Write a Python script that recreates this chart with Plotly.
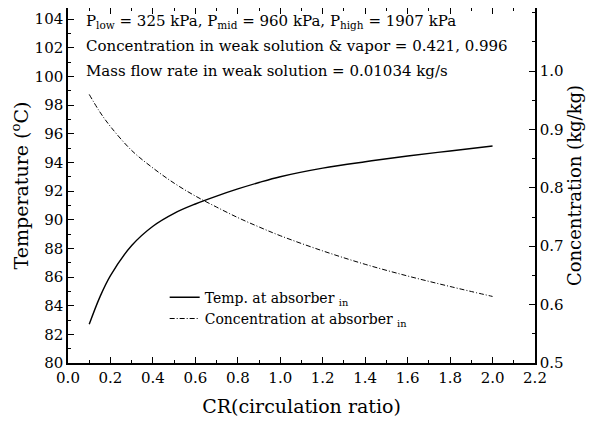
import plotly.graph_objects as go

cr = [0.1, 0.15, 0.2, 0.3, 0.4, 0.5, 0.6, 0.7, 0.8, 0.9, 1.0, 1.2, 1.4, 1.6, 1.8, 2.0]
temp_abs_in = [82.7, 84.6, 86.1, 88.2, 89.55, 90.45, 91.1, 91.65, 92.15, 92.6, 93.0,
               93.6, 94.05, 94.45, 94.8, 95.15]
conc_abs_in = [0.960, 0.930, 0.905, 0.864, 0.834, 0.808, 0.786, 0.767, 0.749, 0.733,
               0.718, 0.692, 0.669, 0.649, 0.631, 0.614]

x_ticks = [0.0, 0.2, 0.4, 0.6, 0.8, 1.0, 1.2, 1.4, 1.6, 1.8, 2.0, 2.2]
y_ticks = list(range(80, 105, 2))
y2_ticks = [0.5, 0.6, 0.7, 0.8, 0.9, 1.0]

FONT = "DejaVu Serif"

fig = go.Figure()
fig.add_trace(go.Scatter(
    x=cr, y=temp_abs_in, mode="lines", line=dict(color="black", width=1.4, shape="spline"),
    name="Temp. at absorber <sub>in</sub>"))
fig.add_trace(go.Scatter(
    x=cr, y=conc_abs_in, mode="lines", yaxis="y2",
    line=dict(color="black", width=1, dash="5px,2px,1px,2px", shape="spline"),
    name="Concentration at absorber <sub>in</sub>"))

axis_common = dict(showline=True, linecolor="black", linewidth=1.5, ticks="inside",
                   tickcolor="black", ticklen=6, tickwidth=1, showgrid=False, zeroline=False,
                   tickfont=dict(family=FONT, size=15, color="black"))

fig.update_layout(
    template="none",
    width=597, height=423,
    margin=dict(l=60, r=70, t=0, b=68),
    paper_bgcolor="white", plot_bgcolor="white",
    font=dict(family=FONT, color="black", size=15),
    xaxis=dict(range=[0, 2.2], tickvals=x_ticks, ticktext=[f"{v:.1f}" for v in x_ticks],
               mirror="ticks",
               minor=dict(ticks="inside", ticklen=3, tickcolor="black", dtick=0.1),
               title=dict(text="CR(circulation ratio)", font=dict(family=FONT, size=19), standoff=14),
               **axis_common),
    yaxis=dict(range=[80, 104.78], tickvals=y_ticks,
               minor=dict(ticks="inside", ticklen=3, tickcolor="black", dtick=1),
               title=dict(text="Temperature (<sup>o</sup>C)",
                          font=dict(family=FONT, size=19), standoff=6),
               **axis_common),
    yaxis2=dict(range=[0.5, 1.108], tickvals=y2_ticks, ticktext=[f"{v:.1f}" for v in y2_ticks],
                overlaying="y", side="right",
                minor=dict(ticks="inside", ticklen=3, tickcolor="black", dtick=0.05),
                title=dict(text="Concentration (kg/kg)", font=dict(family=FONT, size=18), standoff=6),
                **axis_common),
    legend=dict(x=0.207, y=0.229, xanchor="left", yanchor="top", bgcolor="rgba(0,0,0,0)",
                font=dict(family=FONT, size=14), tracegroupgap=0),
    showlegend=True,
)

lines = [
    "P<sub>low</sub> = 325 kPa, P<sub>mid</sub> = 960 kPa, P<sub>high</sub> = 1907 kPa",
    "Concentration in weak solution &amp; vapor = 0.421, 0.996",
    "Mass flow rate in weak solution = 0.01034 kg/s",
]
ys = [0.963, 0.893, 0.8225]
for t, yy in zip(lines, ys):
    fig.add_annotation(xref="paper", yref="paper", x=0.035, y=yy,
                       xanchor="left", yanchor="middle", text=t, showarrow=False,
                       font=dict(family=FONT, size=15, color="black"))

fig.write_html("out.html")
